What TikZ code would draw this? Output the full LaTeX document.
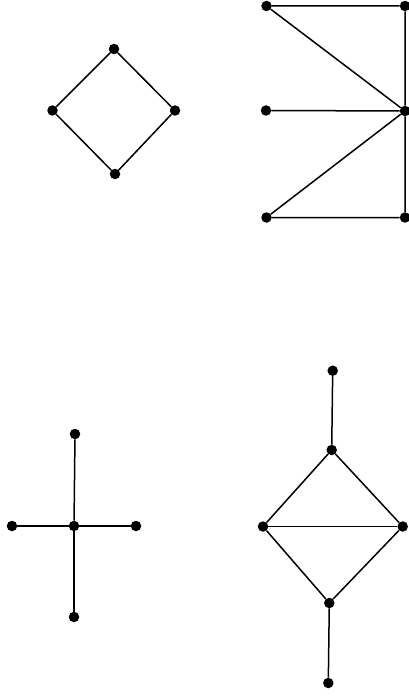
\documentclass[tikz,border=0pt]{standalone}
\begin{document}
\begin{tikzpicture}[x=1pt,y=-1pt,
  vtx/.style={circle,fill=black,inner sep=0pt,minimum size=10.5pt},
  edge/.style={line width=1.5pt}]
\useasboundingbox (0,0) rectangle (409,698);
% top-left diamond
\node[vtx] (a1) at (114,49) {};
\node[vtx] (a2) at (52.5,110.5) {};
\node[vtx] (a3) at (175,110.5) {};
\node[vtx] (a4) at (115,174) {};
\draw[edge] (a1) -- (a2) -- (a4) -- (a3) -- (a1);
% top-right
\node[vtx] (b1) at (266.5,6) {};
\node[vtx] (b2) at (405,6) {};
\node[vtx] (b3) at (266,110.5) {};
\node[vtx] (b4) at (405,111) {};
\node[vtx] (b5) at (266.5,217.5) {};
\node[vtx] (b6) at (405,217.5) {};
\draw[edge] (b1) -- (b2) -- (b4) -- (b6) -- (b5) -- (b4) -- (b1);
\draw[edge] (b3) -- (b4);
% bottom-left star
\node[vtx] (c0) at (74,526) {};
\node[vtx] (c1) at (75,434) {};
\node[vtx] (c2) at (12,526) {};
\node[vtx] (c3) at (136,526) {};
\node[vtx] (c4) at (74,617) {};
\draw[edge] (c0) -- (c1);
\draw[edge] (c0) -- (c2);
\draw[edge] (c0) -- (c3);
\draw[edge] (c0) -- (c4);
% bottom-right
\node[vtx] (d1) at (332.7,370.7) {};
\node[vtx] (d2) at (331.7,450) {};
\node[vtx] (d3) at (263,526.5) {};
\node[vtx] (d4) at (402.7,526.5) {};
\node[vtx] (d5) at (329.3,603) {};
\node[vtx] (d6) at (328.3,683) {};
\draw[edge] (d1) -- (d2);
\draw[edge] (d2) -- (d3) -- (d5) -- (d4) -- (d2);
\draw[edge] (d3) -- (d4);
\draw[edge] (d5) -- (d6);
\end{tikzpicture}
\end{document}
